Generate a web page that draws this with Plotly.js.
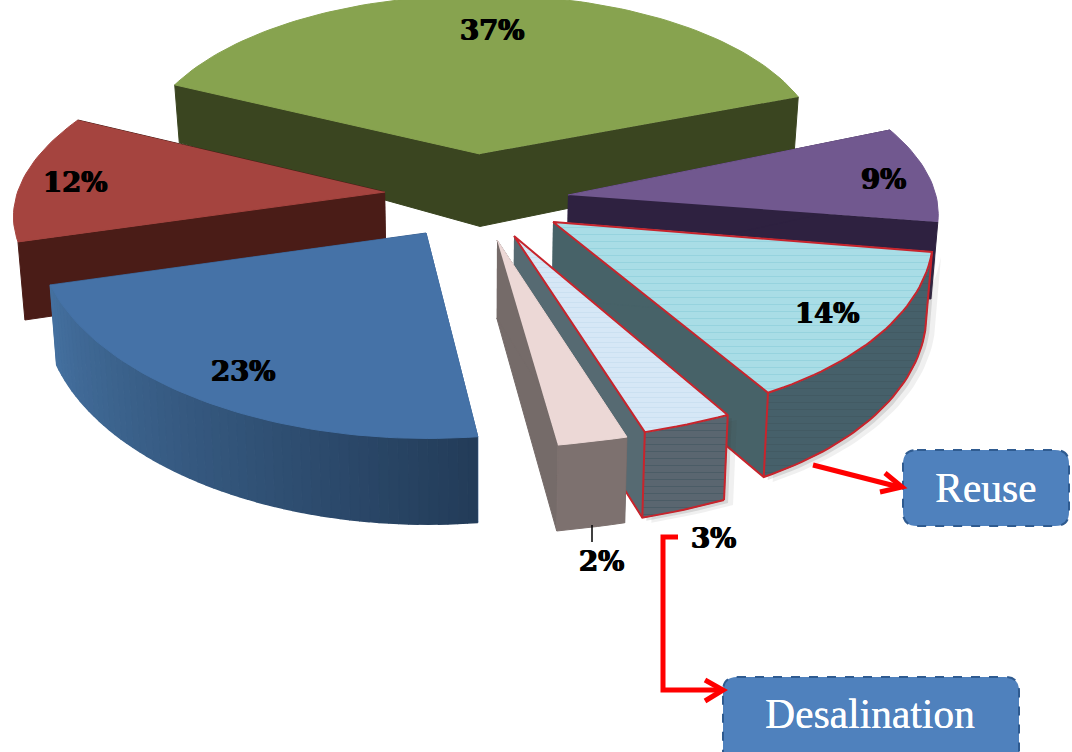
<!DOCTYPE html>
<html><head><meta charset="utf-8">
<script src="https://cdn.plot.ly/plotly-3.0.1.min.js"></script>
<style>html,body{margin:0;padding:0;background:#fff;overflow:hidden}#chart{width:1072px;height:752px}</style>
</head><body><div id="chart"></div>
<script>
// ---- data (clockwise from the 68 degree start) ----
const sliceLabels = ['9%','14%','3%','2%','23%','12%','37%'];
const shares = [9,14,3,2,23,12,37];

// ---- view of each exploded wedge: origin and the two projected basis vectors ----
const startAngle = 68;
const origins = [[568,195],[553,222],[514,236],[497,240],[426,233],[385,192],[480,154]];
const basisA = [[367,-3],[379,-6],[473,-7],[556,-10],[388,13.5],[366.5,2.6],[340,2.7]];
const basisB = [[-49,-166],[-34.5,-199],[19.5,-209],[48,-211],[24,-205],[61,-166],[8,-159]];
const drawOrder = [6,0,5,1,2,3,4];

// ---- styles ----
const topColors = ['#71588f','#a9dde6','#d6e7f6','#ecd8d6','#4572a7','#a5443f','#87a34f'];
const cutColors = ['#2e2140','#476268','#566a72','#756b69','#3a6090','#4a1c17','#3a4520'];
const rimFrom   = ['#2e2140','#46606a','#5a6670','#7d716f','#233c59','#4a1c17','#3a4520'];
const rimTo     = ['#2e2140','#46606a','#5a6670','#7d716f','#44709f','#4a1c17','#3a4520'];
const showRim   = [false,true,true,true,true,false,false];
const outlined  = [false,true,true,false,false,false,false];
const textured  = [false,true,true,false,false,false,false];
const labelX = [883,827,713,601,243,75,492];
const labelY = [179,313,538,561,371,182,30];

const deg = Math.PI/180;
const depth = y => 58 + 27*Math.pow(Math.max(0,y-85)/330,0.4);
const hex = c => [1,3,5].map(i=>parseInt(c.substr(i,2),16));
const mix = (a,b,t)=>{const A=hex(a),B=hex(b);return 'rgb('+A.map((v,i)=>Math.round(v+(B[i]-v)*t)).join(',')+')';};

function rimPoint(i,th){
  const s=Math.sin(th*deg), c=Math.cos(th*deg);
  return [origins[i][0]+basisA[i][0]*s+basisB[i][0]*c, origins[i][1]+basisA[i][1]*s+basisB[i][1]*c];
}
function down(p){ return [p[0]+(480-p[0])*0.015, p[1]+depth(p[1])]; }
function poly(pts,fill,extra){
  return Object.assign({type:'scatter',mode:'lines',x:pts.map(p=>p[0]),y:pts.map(p=>p[1]),
    fill:'toself',fillcolor:fill,line:{color:fill,width:1},hoverinfo:'skip',showlegend:false},extra||{});
}
function polyline(pts,color,width){
  return {type:'scatter',mode:'lines',x:pts.map(p=>p[0]),y:pts.map(p=>p[1]),
    line:{color:color,width:width},hoverinfo:'skip',showlegend:false};
}

// angular extents come from the shares
const extents=[]; let run=startAngle;
shares.forEach(v=>{extents.push([run,run+v*3.6]); run+=v*3.6;});

const traces=[];
drawOrder.forEach(i=>{
  const [a0,a1]=extents[i];
  const n=Math.max(2,Math.ceil((a1-a0)/1.5));
  const arc=[]; for(let k=0;k<=n;k++) arc.push(rimPoint(i,a0+(a1-a0)*k/n));
  const arcDown=arc.map(down);
  const o=origins[i], oD=down(o);
  const rimBand=arc.concat(arcDown.slice().reverse());
  if(outlined[i]){ // soft contact shadow
    [[9,5,0.08],[4,3,0.14]].forEach(s=>{
      const sh=rimBand.map(p=>[p[0]+s[0],p[1]+s[1]]);
      traces.push(poly(sh,'rgba(60,60,60,'+s[2]+')',{line:{width:0}}));
    });
  }
  // the two cut faces
  traces.push(poly([o,arc[n],arcDown[n],oD],cutColors[i]));
  traces.push(poly([o,arc[0],arcDown[0],oD],cutColors[i]));
  // outer rim with its shading
  if(showRim[i]){
    if(rimFrom[i]===rimTo[i]){
      traces.push(poly(rimBand,rimFrom[i],textured[i]?{fillpattern:{shape:'-',size:7,solidity:0.08,
        fgcolor:'#3f555d',bgcolor:rimFrom[i]}}:{}));
    } else {
      for(let k=0;k<n;k++){
        traces.push(poly([arc[k],arc[k+1],arcDown[k+1],arcDown[k]],mix(rimFrom[i],rimTo[i],k/(n-1)),
          {line:{color:mix(rimFrom[i],rimTo[i],k/(n-1)),width:1.5}}));
      }
    }
  }
  // top face
  const face=[o].concat(arc);
  traces.push(poly(face,topColors[i],textured[i]?{fillpattern:{shape:'-',size:i===1?7:5,solidity:0.12,
      fgcolor:i===1?'#93d0dc':'#c4dcee',bgcolor:topColors[i]}}:{}));
  if(outlined[i]){
    const red='#c8242c';
    traces.push(polyline(face.concat([o]),red,2));
    traces.push(polyline(arcDown.concat([oD]),red,2));
    traces.push(polyline([arc[n],arcDown[n]],red,2));
    traces.push(polyline([arc[0],arcDown[0]],red,2));
  }
});

const labelAnn = sliceLabels.map((t,i)=>({x:labelX[i],y:labelY[i],xref:'x',yref:'y',text:'<b>'+t+'</b>',showarrow:false,
  font:{family:'"DejaVu Serif",serif',size:27.5,color:'#000',shadow:'0.7px 0 0 #000, -0.7px 0 0 #000'},xanchor:'center',yanchor:'middle'}));

const boxText=[['Reuse',985,488],['Desalination',870,714]].map(b=>({x:b[1],y:b[2],xref:'x',yref:'y',text:b[0],showarrow:false,
  font:{family:'"Liberation Serif",serif',size:41.5,color:'#fff',shadow:'0.3px 0 0 #fff'},xanchor:'center',yanchor:'middle'}));

function rbox(x0,y0,x1,y1,r){
  return {type:'path',xref:'x',yref:'y',layer:'above',fillcolor:'#4f81bd',line:{color:'#2f5b90',width:2,dash:'dash'},
    path:`M${x0+r},${y0} L${x1-r},${y0} Q${x1},${y0} ${x1},${y0+r} L${x1},${y1-r} Q${x1},${y1} ${x1-r},${y1} L${x0+r},${y1} Q${x0},${y1} ${x0},${y1-r} L${x0},${y0+r} Q${x0},${y0} ${x0+r},${y0} Z`};
}
function stroke(d,color,w){return {type:'path',xref:'x',yref:'y',layer:'above',path:d,line:{color:color,width:w}};}

const shapes=[
  rbox(903,450,1069,526,14),
  rbox(723,677,1019,770,14),
  stroke('M813,465 L899,487','#ff0000',5),
  stroke('M885,473 L902,487 L880,492','#ff0000',5),
  stroke('M678,537 L663,537 L663,690 L720,690','#ff0000',5),
  stroke('M705,680 L723,690 L705,701','#ff0000',5),
  stroke('M592,525 L592,542','#000000',1.5)
];

Plotly.newPlot('chart',traces,{
  width:1072,height:752,margin:{l:0,r:0,t:0,b:0},
  paper_bgcolor:'#fff',plot_bgcolor:'#fff',showlegend:false,
  xaxis:{range:[0,1072],visible:false,fixedrange:true},
  yaxis:{range:[752,0],visible:false,fixedrange:true},
  annotations:labelAnn.concat(boxText),shapes:shapes
},{displayModeBar:false,staticPlot:true});
</script></body></html>
